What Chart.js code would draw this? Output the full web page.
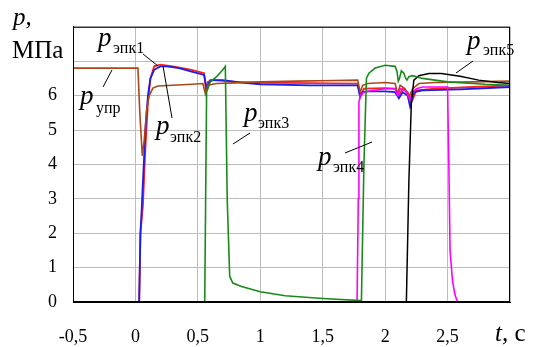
<!DOCTYPE html>
<html>
<head>
<meta charset="utf-8">
<script src="https://cdn.jsdelivr.net/npm/chart.js@4.4.1/dist/chart.umd.min.js"></script>
<style>
  body { margin: 0; background: #fff; }
  #wrap { width: 534px; height: 347px; position: relative; }
  #warm { position: absolute; left: 200px; top: 150px; color: #fff; font: 16px 'Liberation Serif'; }
  #myChart { position: absolute; left: 0; top: 0; }
</style>
</head>
<body>
<div id="wrap">
  <div id="warm">МПа эпк упр 0,5 1 c <i>p t</i></div>
  <canvas id="myChart" width="534" height="347"></canvas>
</div>
<script>
// time, s and pressure, MPa
var tUpr = [-0.5, 0.02, 0.035, 0.055, 0.07, 0.09, 0.11, 0.14, 0.18, 0.3, 0.45, 0.54, 0.56, 0.58, 0.65, 0.8, 1.0, 1.3, 1.6, 1.78, 1.8, 1.82, 1.86, 2.0, 2.08, 2.1, 2.12, 2.16, 2.19, 2.22, 2.27, 2.4, 2.7, 3.0];
var pUpr = [6.8, 6.8, 5.5, 4.25, 4.7, 5.6, 6.0, 6.22, 6.28, 6.3, 6.33, 6.35, 6.05, 6.3, 6.35, 6.37, 6.4, 6.42, 6.44, 6.45, 6.1, 6.3, 6.35, 6.38, 6.35, 6.05, 6.3, 6.2, 5.95, 6.2, 6.35, 6.38, 6.4, 6.42];

var tEpk1 = [-0.5, 0.03, 0.04, 0.06, 0.08, 0.1, 0.12, 0.15, 0.2, 0.3, 0.45, 0.55, 0.565, 0.58, 0.62, 0.8, 1.0, 1.4, 1.78, 1.8, 1.83, 2.0, 2.08, 2.11, 2.14, 2.18, 2.21, 2.25, 2.4, 2.7, 3.0];
var pEpk1 = [0, 0, 2.0, 2.8, 4.5, 5.8, 6.5, 6.85, 6.9, 6.85, 6.75, 6.65, 6.15, 6.4, 6.45, 6.4, 6.38, 6.36, 6.35, 6.0, 6.2, 6.22, 6.2, 6.0, 6.2, 6.1, 5.8, 6.15, 6.2, 6.25, 6.3];

var tEpk2 = [-0.5, 0.03, 0.04, 0.05, 0.06, 0.08, 0.1, 0.12, 0.15, 0.2, 0.25, 0.35, 0.45, 0.55, 0.57, 0.6, 0.7, 0.85, 1.0, 1.4, 1.78, 1.8, 1.82, 1.86, 2.0, 2.08, 2.11, 2.14, 2.18, 2.2, 2.23, 2.3, 2.6, 3.0];
var pEpk2 = [0, 0, 2.0, 2.7, 3.5, 5.0, 6.0, 6.5, 6.75, 6.85, 6.85, 6.8, 6.7, 6.6, 6.2, 6.45, 6.45, 6.38, 6.33, 6.3, 6.3, 5.95, 6.1, 6.12, 6.12, 6.1, 5.92, 6.1, 6.0, 5.68, 6.1, 6.15, 6.18, 6.25];

var tEpk3 = [-0.5, 0.555, 0.57, 0.6, 0.65, 0.7, 0.72, 0.735, 0.755, 0.78, 0.85, 1.0, 1.2, 1.5, 1.81, 1.83, 1.85, 1.87, 1.92, 2.0, 2.08, 2.095, 2.105, 2.115, 2.13, 2.15, 2.165, 2.175, 2.19, 2.22, 2.3, 2.5, 2.8, 3.0];
var pEpk3 = [0, 0, 6.1, 6.4, 6.55, 6.75, 6.85, 3.0, 0.75, 0.55, 0.45, 0.3, 0.18, 0.1, 0.04, 4.0, 6.5, 6.65, 6.8, 6.88, 6.85, 6.7, 6.42, 6.5, 6.72, 6.65, 6.5, 6.45, 6.55, 6.58, 6.5, 6.4, 6.33, 6.3];

var tEpk4 = [-0.5, 1.775, 1.785, 1.79, 1.8, 1.83, 1.9, 2.0, 2.08, 2.1, 2.12, 2.16, 2.2, 2.22, 2.25, 2.3, 2.4, 2.5, 2.51, 2.52, 2.54, 2.56, 2.58, 3.0];
var pEpk4 = [0, 0, 3.0, 5.8, 6.0, 6.1, 6.15, 6.2, 6.2, 6.0, 6.2, 6.15, 5.9, 6.1, 6.2, 6.25, 6.25, 6.25, 4.0, 1.5, 0.6, 0.2, 0, 0];

var tEpk5 = [-0.5, 2.17, 2.19, 2.21, 2.23, 2.27, 2.35, 2.45, 2.6, 2.75, 2.9, 3.0];
var pEpk5 = [0, 0, 3.5, 5.8, 6.45, 6.58, 6.64, 6.64, 6.56, 6.45, 6.38, 6.35];

var xTicks = [-0.5, 0, 0.5, 1, 1.5, 2, 2.5];
var yTicks = [0, 1, 2, 3, 4, 5, 6];

function pts(t, p) {
  return t.map(function (v, i) { return { x: v, y: p[i] }; });
}

function line(data, color, w) {
  return { data: data, borderColor: color, borderWidth: w, pointRadius: 0, tension: 0, fill: false };
}

var serif = 'Liberation Serif';
Chart.defaults.font.family = serif;

// labels p with subscripts and leader lines
var labels = [
  { sub: 'эпк1', x: 98, y: 46, sx: 113, sy: 53, l: [143, 54, 158, 66] },
  { sub: 'упр', x: 80, y: 104, sx: 96, sy: 113, l: [103, 87, 112, 70] },
  { sub: 'эпк2', x: 156, y: 134, sx: 170, sy: 142, l: [172, 118, 163, 66] },
  { sub: 'эпк3', x: 244, y: 121, sx: 258, sy: 128, l: [233, 144, 250, 133] },
  { sub: 'эпк4', x: 318, y: 165, sx: 333, sy: 172, l: [345, 153, 372, 142] },
  { sub: 'эпк5', x: 467, y: 49, sx: 483, sy: 55, l: [456, 73, 473, 61] }
];

var textPlugin = {
  id: 'texts',
  afterDraw: function (chart) {
    var ctx = chart.ctx;
    var a = chart.chartArea;
    ctx.save();
    // frame
    ctx.strokeStyle = '#000';
    ctx.lineWidth = 1;
    ctx.strokeRect(a.left + 0.5, a.top + 0.5, a.right - a.left - 1, a.bottom - a.top - 1);

    ctx.fillStyle = '#000';
    ctx.textBaseline = 'alphabetic';
    ctx.textAlign = 'left';
    labels.forEach(function (o) {
      ctx.font = 'italic 27px ' + serif;
      ctx.fillText('p', o.x, o.y);
      ctx.font = '16px ' + serif;
      ctx.fillText(o.sub, o.sx, o.sy);
      ctx.beginPath();
      ctx.moveTo(o.l[0], o.l[1]);
      ctx.lineTo(o.l[2], o.l[3]);
      ctx.stroke();
    });

    // axis titles
    ctx.font = 'italic 25px ' + serif;
    ctx.fillText('p,', 13, 25);
    ctx.font = '25px ' + serif;
    ctx.fillText('МПа', 12, 58);
    ctx.font = 'italic 25px ' + serif;
    ctx.fillText('t,', 495, 341);
    var w = ctx.measureText('t, ').width;
    ctx.font = '25px ' + serif;
    ctx.fillText('c', 495 + w, 341);
    ctx.restore();
  }
};

var ctx = document.getElementById('myChart').getContext('2d');
var myChart = new Chart(ctx, {
  type: 'line',
  data: {
    datasets: [
      line(pts(tEpk3, pEpk3), '#1a8a1a', 1.6),
      line(pts(tEpk5, pEpk5), '#000000', 1.5),
      line(pts(tEpk4, pEpk4), '#ff00ff', 1.6),
      line(pts(tUpr, pUpr), '#a8481c', 1.6),
      line(pts(tEpk2, pEpk2), '#1c1cf0', 1.8),
      line(pts(tEpk1, pEpk1), '#ff2020', 1.8)
    ]
  },
  options: {
    responsive: false,
    animation: false,
    layout: { padding: { top: 26, right: 10, left: 0, bottom: 0 } },
    plugins: { legend: { display: false }, tooltip: { enabled: false } },
    scales: {
      x: {
        type: 'linear',
        min: -0.5,
        max: 3,
        afterFit: function (s) { s.height = 45; },
        afterBuildTicks: function (s) {
          s.ticks = xTicks.concat([3]).map(function (v) { return { value: v }; });
        },
        grid: { color: '#bdbdbd', drawTicks: false },
        border: { color: '#000' },
        ticks: {
          padding: 24,
          color: '#000',
          maxRotation: 0,
          font: { family: serif, size: 18 },
          callback: function (v) {
            return xTicks.indexOf(v) < 0 ? '' : String(v).replace('.', ',');
          }
        }
      },
      y: {
        min: 0,
        max: 8,
        afterFit: function (s) { s.width = 73; },
        afterBuildTicks: function (s) {
          s.ticks = [0, 1, 2, 3, 4, 5, 6, 7, 8].map(function (v) { return { value: v }; });
        },
        grid: { color: '#bdbdbd', drawTicks: false },
        border: { color: '#000' },
        ticks: {
          padding: 16,
          color: '#000',
          font: { family: serif, size: 18 },
          callback: function (v) { return yTicks.indexOf(v) < 0 ? '' : String(v); }
        }
      }
    }
  },
  plugins: [textPlugin]
});

// redraw once the serif faces are surely in use
setTimeout(function () { myChart.update('none'); }, 50);
</script>
</body>
</html>
